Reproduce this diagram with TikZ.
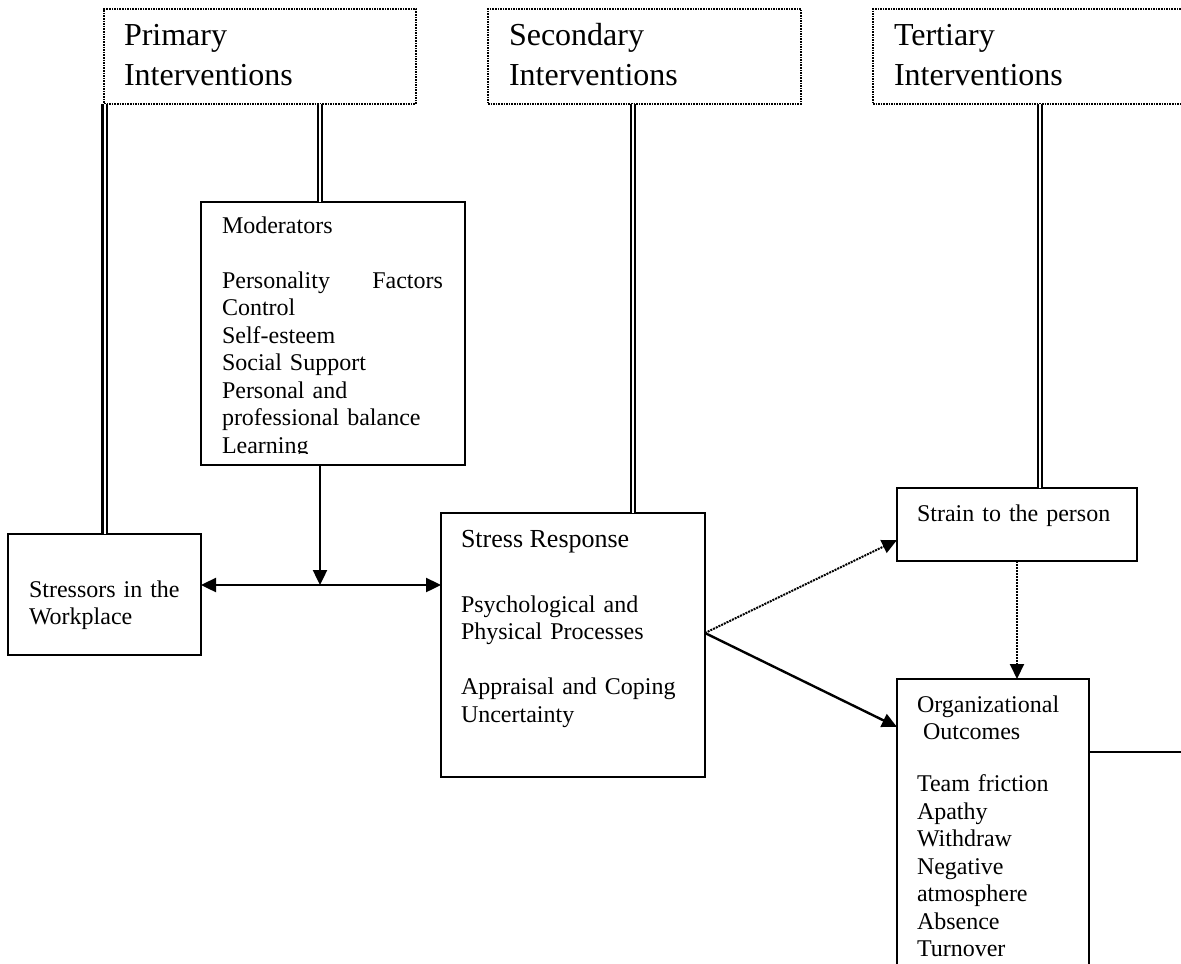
\documentclass[tikz,border=0pt]{standalone}
\usepackage{fontspec}
\setmainfont{Liberation Serif}
\usetikzlibrary{arrows.meta}
\begin{document}
\begin{tikzpicture}[x=1pt,y=-1pt,
  every node/.style={inner sep=0pt, outer sep=0pt},
  frame/.style={draw, line width=2pt, anchor=north west},
  headbox/.style={draw, densely dotted, line width=1.6pt, anchor=north west},
  body/.style={anchor=base west, align=left, text width=#1,
    font=\fontsize{24}{27.5}\selectfont},
  body/.default=240pt,
  title/.style={anchor=base west, align=left, text width=260pt,
    font=\fontsize{32}{40}\selectfont},
  dbl/.style={double, double distance=2pt, line width=2.2pt},
  tip/.style={-{Triangle[length=15pt,width=14pt]}},
  arr/.style={line width=2.4pt, tip},
  dotarr/.style={line width=2pt, densely dotted, tip},
  link/.style={line width=2.4pt}]
\useasboundingbox (0,0) rectangle (1181,964);

% intervention headers
\node[headbox, minimum width=312pt, minimum height=95pt] (prim) at (104,9) {};
\node[headbox, minimum width=313pt, minimum height=95pt] (sec) at (488,9) {};
\node[headbox, minimum width=330pt, minimum height=95pt] (tert) at (873,9) {};
\node[title] (primtxt) at (124,45) {Primary\\Interventions};
\node[title] (sectxt) at (509,45) {Secondary\\Interventions};
\node[title] (terttxt) at (894,45) {Tertiary\\Interventions};

% moderators
\node[frame, minimum width=264pt, minimum height=263pt] (mod) at (201,202) {};
\begin{scope}
  \clip (201,202) rectangle (465,453);
  \node[body=221pt] (modtxt) at (222,233) {Moderators\\[27.5pt]
    \makebox[\linewidth][l]{Personality\hfill Factors}\\
    Control\\Self-esteem\\Social Support\\Personal and\\
    professional balance\\Learning};
\end{scope}

% stressors
\node[frame, minimum width=193pt, minimum height=121pt] (str) at (8,534) {};
\node[body=170pt] (strtxt) at (29,597) {Stressors in the\\Workplace};

% stress response
\node[frame, minimum width=264pt, minimum height=264pt] (resp) at (441,513) {};
\node[anchor=base west, font=\fontsize{26}{30}\selectfont] (resptitle) at (461,547) {Stress Response};
\node[body] (resptxt) at (461,612) {Psychological and\\Physical Processes\\[27.5pt]
  Appraisal and Coping\\Uncertainty};

% strain
\node[frame, minimum width=240pt, minimum height=73pt] (strain) at (897,488) {};
\node[body] (straintxt) at (917,521) {Strain to the person};

% organizational outcomes
\node[frame, minimum width=192pt, minimum height=300pt] (org) at (897,679) {};
\node[body=170pt] (orgtxt) at (917,712) {Organizational\\
  \hspace*{6pt}Outcomes\\[24.5pt]
  Team friction\\Apathy\\Withdraw\\Negative\\atmosphere\\Absence\\Turnover};

% helper points
\coordinate (j) at (320,585);
\coordinate (sx) at (633,0);
\coordinate (tx) at (1040,0);
\coordinate (br) at (705,633);
\coordinate (rim) at (1181,752);

% intervention links
\draw[dbl] (str.north |- prim.south) -- (str.north);
\draw[dbl] (prim.south -| j) -- (mod.north -| j);
\draw[dbl] (sec.south -| sx) -- (resp.north -| sx);
\draw[dbl] (tert.south -| tx) -- (strain.north -| tx);

% process flow
\draw[arr] (mod.south -| j) -- (j);
\draw[line width=2.4pt, {Triangle[length=15pt,width=14pt]}-{Triangle[length=15pt,width=14pt]}]
  (str.east |- j) -- (resp.west |- j);
\draw[dotarr] (br) -- (strain.west |- 0,540);
\draw[arr] (br) -- (org.west |- 0,727);
\draw[dotarr] (strain.south) -- (org.north -| strain.south);
\draw[link] (org.east |- rim) -- (rim);
\end{tikzpicture}
\end{document}
